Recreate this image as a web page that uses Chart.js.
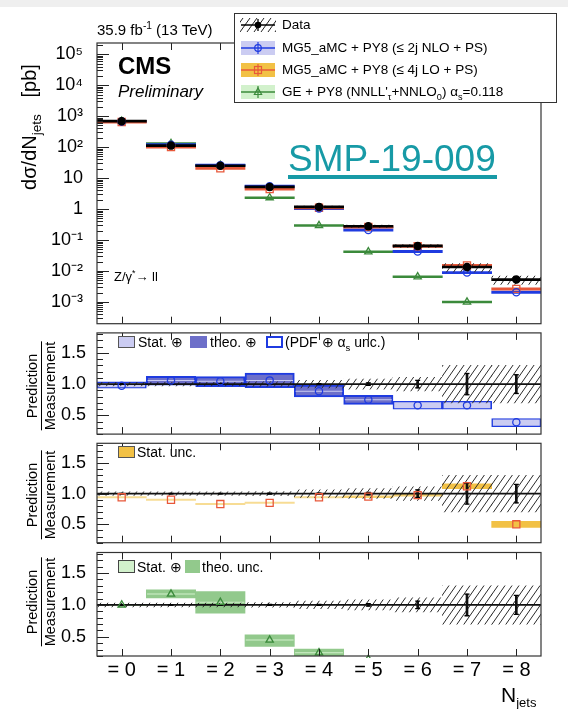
<!DOCTYPE html>
<html>
<head>
<meta charset="utf-8">
<script src="https://cdn.jsdelivr.net/npm/chart.js@4.4.1/dist/chart.umd.min.js"></script>
<style>
  body { margin: 0; background: #fff; }
  #page { position: relative; width: 568px; height: 709px; overflow: hidden; font-family: 'Liberation Sans', Arial, Helvetica, sans-serif; color: #000; }
  #topbar { position: absolute; left: 0; top: 0; width: 568px; height: 7px; background: #efefef; }
  canvas { position: absolute; left: 0; }
  .t { position: absolute; white-space: nowrap; line-height: 1; z-index: 3; }
  .sw { position: absolute; box-sizing: border-box; z-index: 3; }
  sub, sup { font-size: 68%; line-height: 0; }
</style>
</head>
<body>
<div id="page">
  <div id="topbar"></div>
  <canvas id="main" width="568" height="330" style="top:0"></canvas>
  <canvas id="ratioNlo" width="568" height="111" style="top:328px"></canvas>
  <canvas id="ratioLo" width="568" height="112" style="top:437px"></canvas>
  <canvas id="ratioGe" width="568" height="162" style="top:547px"></canvas>
</div>
<script>
'use strict';

// jet multiplicity bins
let categories = ['= 0', '= 1', '= 2', '= 3', '= 4', '= 5', '= 6', '= 7', '= 8'];

// measured cross section per bin [pb]
let measured = [690, 112, 25, 5.2, 1.18, 0.28, 0.065, 0.0135, 0.0053];
// relative uncertainties of the measurement: total (hatched) and stat (error bars)
let measTotUnc = [0.03, 0.03, 0.03, 0.035, 0.06, 0.08, 0.11, 0.30, 0.30];
let measStatUnc = [0.004, 0.004, 0.005, 0.006, 0.008, 0.02, 0.06, 0.17, 0.15];

// MG5_aMC + PY8 (<= 2j NLO + PS), prediction / measurement
let nloRatio = [0.975, 1.06, 1.045, 1.06, 0.885, 0.75, 0.66, 0.66, 0.39];
let nloLow = [0.935, 0.985, 0.96, 0.945, 0.795, 0.675, 0.60, 0.60, 0.32];
let nloHigh = [1.035, 1.125, 1.12, 1.175, 0.985, 0.82, 0.725, 0.725, 0.45];
let nloStatLow = [0.95, 1.052, 1.037, 1.052, 0.877, 0.742, 0.615, 0.615, 0.335];
let nloStatHigh = [1.02, 1.068, 1.053, 1.068, 0.893, 0.758, 0.71, 0.71, 0.435];

// MG5_aMC + PY8 (<= 4j LO + PS), prediction / measurement
let loRatio = [0.94, 0.90, 0.83, 0.85, 0.94, 0.95, 0.975, 1.12, 0.50];
let loStatLow = [0.928, 0.889, 0.819, 0.839, 0.928, 0.935, 0.96, 1.08, 0.45];
let loStatHigh = [0.952, 0.911, 0.841, 0.861, 0.952, 0.965, 0.99, 1.16, 0.55];

// GE + PY8 (NNLL'+NNLO0), prediction / measurement
let geRatio = [1.0, 1.17, 1.04, 0.45, 0.25, 0.15, 0.10, 0.074, null];
let geLow = [0.99, 1.11, 0.87, 0.35, 0.19, null, null, null, null];
let geHigh = [1.01, 1.235, 1.21, 0.53, 0.31, null, null, null, null];
let geStatLow = [0.995, 1.162, 1.032, 0.442, 0.242, null, null, null, null];
let geStatHigh = [1.005, 1.178, 1.048, 0.458, 0.258, null, null, null, null];

// axis ticks
let mainTickValues = [1e-3, 1e-2, 1e-1, 1, 10, 100, 1e3, 1e4, 1e5];
let mainTickLabels = ['10⁻³', '10⁻²', '10⁻¹', '1', '10', '10²', '10³', '10⁴', '10⁵'];
let ratioTickValues = [0.5, 1.0, 1.5];
let ratioTickLabels = ['0.5', '1.0', '1.5'];

// colours
let blue = '#1f3be0';
let nloDark = '#6d6fc9';
let nloLight = '#cbccf2';
let red = '#e8583a';
let loBand = ['#f7dc94', '#f7dc94', '#f7dc94', '#f7dc94', '#f7dc94', '#f5d070', '#f5d070', '#f2c145', '#f2c145'];
let green = '#3b8a3b';
let geDark = '#92c98c';
let geLight = '#d2f1cc';

Chart.defaults.font.family = "'Liberation Sans', Arial, Helvetica, sans-serif";
Chart.defaults.color = '#000';

let page = document.getElementById('page');

// diagonal hatching used for the measurement uncertainty
function makeHatch() {
  let c = document.createElement('canvas');
  c.width = 7;
  c.height = 10;
  let g = c.getContext('2d');
  g.strokeStyle = '#2a2a2a';
  g.lineWidth = 1;
  g.beginPath();
  g.moveTo(0, 10); g.lineTo(7, 0);
  g.moveTo(-1, 1.43); g.lineTo(1, -1.43);
  g.moveTo(6, 11.43); g.lineTo(8, 8.57);
  g.stroke();
  return g.createPattern(c, 'repeat');
}
let hatch = makeHatch();

function pairs(lo, hi) {
  return lo.map((v, i) => (v == null || hi[i] == null) ? null : [v, hi[i]]);
}

// thin band around a value on the log axis, drawn as a horizontal line
function lineBand(vals, f) {
  return vals.map(v => v == null ? null : [v / f, v * f]);
}

function times(a, b) {
  return a.map((v, i) => (v == null || b[i] == null) ? null : v * b[i]);
}

// tick labels may stick out of the frame, the frame itself stays put
function noOverflow(s) {
  s.paddingTop = 0;
  s.paddingBottom = 0;
  s.paddingLeft = 0;
  s.paddingRight = 0;
}

// frame, inward ticks and the line at unity
let framePlugin = {
  id: 'frame',
  afterDatasetDraw(chart, args) {
    let ds = chart.data.datasets[args.index];
    if (!ds.unityAfter) return;
    let { ctx, chartArea: a } = chart;
    let py = chart.scales.y.getPixelForValue(1);
    ctx.save();
    ctx.strokeStyle = '#111';
    ctx.lineWidth = 1.6;
    ctx.beginPath();
    ctx.moveTo(a.left, py);
    ctx.lineTo(a.right, py);
    ctx.stroke();
    ctx.restore();
  },
  afterDraw(chart, args, opts) {
    let { ctx, chartArea: a } = chart;
    let xs = chart.scales.x;
    let ys = chart.scales.y;
    ctx.save();
    ctx.strokeStyle = '#222';
    ctx.lineWidth = 1;
    ctx.beginPath();
    let yTick = (v, len) => {
      let py = Math.round(ys.getPixelForValue(v)) + 0.5;
      ctx.moveTo(a.left, py);
      ctx.lineTo(a.left + len, py);
    };
    (opts.major || []).forEach(v => yTick(v, 12));
    (opts.minor || []).forEach(v => yTick(v, 6));
    categories.forEach((c, i) => {
      let px = Math.round(xs.getPixelForValue(i)) + 0.5;
      ctx.moveTo(px, a.bottom);
      ctx.lineTo(px, a.bottom - 7);
      ctx.moveTo(px, a.top);
      ctx.lineTo(px, a.top + 7);
    });
    ctx.stroke();
    ctx.strokeStyle = '#333';
    ctx.lineWidth = 1.2;
    ctx.strokeRect(a.left, a.top, a.right - a.left, a.bottom - a.top);
    ctx.restore();
  }
};

let logMinor = [];
for (let k = -4; k <= 5; k++) {
  for (let m = 2; m <= 9; m++) {
    let v = m * Math.pow(10, k);
    if (v > 2e-4 && v < 2.3e5) logMinor.push(v);
  }
}
let ratioMinor = [];
for (let k = 2; k <= 18; k++) {
  if (k % 5 !== 0) ratioMinor.push(k / 10);
}

let floating = { grouped: false, barPercentage: 1, categoryPercentage: 1, borderSkipped: false };

function markers(data, style, color, radius, order, filled) {
  return {
    type: 'line', data: data, showLine: false, order: order,
    pointStyle: style, pointRadius: radius, pointHoverRadius: radius,
    pointBorderColor: color, pointBorderWidth: 1.3,
    pointBackgroundColor: filled ? color : 'rgba(0,0,0,0)', clip: 2
  };
}

// ---------- cross section panel ----------
let nloMain = times(measured, nloRatio);
let loMain = times(measured, loRatio);
let geMain = times(measured, geRatio);

new Chart(document.getElementById('main'), {
  type: 'bar',
  data: {
    labels: categories,
    datasets: [
      markers(measured, 'circle', '#000', 3.6, 0, true),
      markers(nloMain, 'circle', blue, 3.6, 1, false),
      markers(loMain, 'rect', red, 5, 1, false),
      markers(geMain, 'triangle', green, 4.2, 1, false),
      Object.assign({ data: lineBand(measured, 1.075), backgroundColor: '#000', order: 2 }, floating),
      Object.assign({ data: pairs(measured.map((v, i) => v * (1 - measTotUnc[i])), measured.map((v, i) => v * (1 + measTotUnc[i]))), backgroundColor: hatch, order: 3 }, floating),
      Object.assign({ data: lineBand(loMain, 1.09), backgroundColor: red, order: 4 }, floating),
      Object.assign({ data: lineBand(nloMain, 1.09), backgroundColor: blue, order: 5 }, floating),
      Object.assign({ data: lineBand(geMain, 1.07), backgroundColor: green, order: 6 }, floating)
    ]
  },
  options: {
    responsive: false,
    animation: false,
    layout: { padding: { top: 43, right: 27, bottom: 1, left: 0 } },
    plugins: { legend: { display: false }, tooltip: { enabled: false }, frame: { major: mainTickValues, minor: logMinor } },
    scales: {
      x: { display: false },
      y: {
        type: 'logarithmic', min: 2e-4, max: 2.3e5,
        grid: { display: false }, border: { display: false },
        afterBuildTicks: s => { s.ticks = mainTickValues.map(v => ({ value: v })); },
        ticks: { callback: (v, i) => mainTickLabels[i], font: { size: 18 }, color: '#000', padding: 6, autoSkip: false },
        afterFit: s => { s.width = 97; noOverflow(s); }
      }
    }
  },
  plugins: [framePlugin]
});

// ---------- ratio panels ----------
function measDatasets() {
  return [
    markers(measStatUnc.map(u => 1 + u), 'line', '#000', 2.5, 1, false),
    markers(measStatUnc.map(u => 1 - u), 'line', '#000', 2.5, 1, false),
    { type: 'bar', data: measStatUnc.map(u => [1 - u, 1 + u]), backgroundColor: '#111', barThickness: 2, grouped: false, order: 2 },
    Object.assign({ data: measTotUnc.map(u => [1 - u, 1 + u]), backgroundColor: hatch, order: 3, unityAfter: true }, floating)
  ];
}

function ratioChart(id, datasets, showX) {
  let x = { display: false };
  if (showX) {
    x = {
      display: true,
      grid: { display: false, drawTicks: false }, border: { display: false },
      ticks: { font: { size: 20 }, color: '#000', padding: 2, maxRotation: 0, autoSkip: false },
      afterFit: s => { s.height = 53; noOverflow(s); }
    };
  }
  return new Chart(document.getElementById(id), {
    type: 'bar',
    data: { labels: categories, datasets: datasets.concat(measDatasets()) },
    options: {
      responsive: false,
      animation: false,
      layout: { padding: { top: 1, right: 27, bottom: showX ? 0 : 1, left: 0 } },
      plugins: { legend: { display: false }, tooltip: { enabled: false }, frame: { major: ratioTickValues, minor: ratioMinor } },
      scales: {
        x: x,
        y: {
          min: 0.2, max: 1.82,
          grid: { display: false }, border: { display: false },
          afterBuildTicks: s => { s.ticks = ratioTickValues.map(v => ({ value: v })); },
          ticks: { callback: (v, i) => ratioTickLabels[i], font: { size: 18 }, color: '#000', padding: 3 },
          afterFit: s => { s.width = 97; noOverflow(s); }
        }
      }
    },
    plugins: [framePlugin]
  });
}

ratioChart('ratioNlo', [
  markers(nloRatio, 'circle', blue, 3.6, 0, false),
  Object.assign({}, floating, { data: pairs(nloStatLow, nloStatHigh), backgroundColor: nloLight, barPercentage: 0.95, order: 4 }),
  Object.assign({ data: pairs(nloLow, nloHigh), backgroundColor: nloDark, borderColor: blue, borderWidth: 2, order: 5 }, floating)
], false);

ratioChart('ratioLo', [
  markers(loRatio, 'rect', red, 5, 0, false),
  Object.assign({ data: pairs(loStatLow, loStatHigh), backgroundColor: loBand, order: 5 }, floating)
], false);

ratioChart('ratioGe', [
  markers(geRatio, 'triangle', green, 4.2, 0, false),
  Object.assign({}, floating, { data: pairs(geStatLow, geStatHigh), backgroundColor: geLight, barPercentage: 0.97, order: 4 }),
  Object.assign({ data: pairs(geLow, geHigh), backgroundColor: geDark, order: 5 }, floating)
], true);

// ---------- text and legends ----------
function addText(html, left, top, size, extra) {
  let d = document.createElement('div');
  d.className = 't';
  d.style.left = left + 'px';
  d.style.top = top + 'px';
  d.style.fontSize = size + 'px';
  if (extra) d.style.cssText += extra;
  d.innerHTML = html;
  page.appendChild(d);
  return d;
}

function addBox(left, top, w, h, css) {
  let d = document.createElement('div');
  d.className = 'sw';
  d.style.cssText += `left:${left}px;top:${top}px;width:${w}px;height:${h}px;` + css;
  page.appendChild(d);
  return d;
}

addText('35.9 fb<sup>-1</sup> (13 TeV)', 97, 22, 15);
addText('CMS', 118, 54, 24, 'font-weight:bold;');
addText('Preliminary', 118, 83, 17, 'font-style:italic;');
addText('Z/γ<sup>*</sup>→ ll', 114, 270, 13);
addText('SMP-19-009', 288, 140, 37, 'color:#179aa6;');
addBox(288, 175, 209, 4, 'background:#179aa6;');

// y axis titles
addText('dσ/dN<sub>jets</sub>&nbsp;&nbsp;&nbsp;[pb]', 29, 127, 20, 'transform:translate(-50%,-50%) rotate(-90deg);');
[386, 495, 602].forEach(cy => {
  addText('<div style="border-bottom:1px solid #000;padding:0 0 1px;text-align:center">Prediction</div><div style="padding-top:1px;text-align:center">Measurement</div>',
    41, cy, 14.5, 'transform:translate(-50%,-50%) rotate(-90deg);');
});
addText('N<sub style="font-size:62%">jets</sub>', 501, 684, 21);

// legend of the cross section panel
let legendRows = [
  { text: 'Data', kind: 'data' },
  { text: 'MG5_aMC + PY8 (≤ 2j NLO + PS)', kind: 'nlo' },
  { text: 'MG5_aMC + PY8 (≤ 4j LO + PS)', kind: 'lo' },
  { text: 'GE + PY8 (NNLL\'<sub>τ</sub>+NNLO<sub>0</sub>) α<sub>s</sub>=0.118', kind: 'ge' }
];
addBox(234, 13, 323, 90, 'border:1px solid #333;background:#fff;z-index:2;');

function swatchSvg(kind) {
  let s = '<svg width="36" height="18" xmlns="http://www.w3.org/2000/svg">';
  if (kind === 'data') {
    for (let i = -2; i < 6; i++) s += `<line x1="${i * 7}" y1="16" x2="${i * 7 + 10}" y2="2" stroke="#222" stroke-width="1"/>`;
    s += '<line x1="1" y1="9" x2="35" y2="9" stroke="#000" stroke-width="1.5"/>';
    s += '<line x1="18" y1="3" x2="18" y2="15" stroke="#000" stroke-width="1.3"/>';
    s += '<circle cx="18" cy="9" r="3.3" fill="#000"/>';
  } else {
    let fill = { nlo: nloLight, lo: '#f2c145', ge: geLight }[kind];
    let col = { nlo: blue, lo: red, ge: green }[kind];
    s += `<rect x="1" y="2" width="34" height="14" fill="${fill}"/>`;
    s += `<line x1="1" y1="9" x2="35" y2="9" stroke="${col}" stroke-width="1.6"/>`;
    s += `<line x1="18" y1="3" x2="18" y2="15" stroke="${col}" stroke-width="1.2"/>`;
    if (kind === 'nlo') s += `<circle cx="18" cy="9" r="3.3" fill="none" stroke="${col}" stroke-width="1.2"/>`;
    if (kind === 'lo') s += `<rect x="14.5" y="5.5" width="7" height="7" fill="none" stroke="${col}" stroke-width="1.2"/>`;
    if (kind === 'ge') s += `<polygon points="18,5 21.6,11.5 14.4,11.5" fill="none" stroke="${col}" stroke-width="1.2"/>`;
  }
  return s + '</svg>';
}

[25, 48, 70, 92].forEach((cy, i) => {
  let d = addBox(240, cy - 9, 36, 18, '');
  d.innerHTML = swatchSvg(legendRows[i].kind);
  addText(legendRows[i].text, 282, cy - 7, 13.5);
});

// legends of the ratio panels
addBox(118, 336, 17, 12, `background:${nloLight};border:1px solid #555;`);
addText('Stat. ⊕', 138, 335, 14);
addBox(190, 336, 17, 12, `background:${nloDark};`);
addText('theo. ⊕', 210, 335, 14);
addBox(266, 336, 17, 12, `background:#fff;border:2px solid ${blue};`);
addText('(PDF ⊕ α<sub>s</sub> unc.)', 285, 335, 14);

addBox(118, 446, 17, 12, 'background:#f2c145;border:1px solid #555;');
addText('Stat. unc.', 137, 445, 14);

addBox(118, 560, 17, 13, `background:${geLight};border:1px solid #444;`);
addText('Stat. ⊕', 137, 560, 14);
addBox(185, 560, 15, 13, `background:${geDark};`);
addText('theo. unc.', 202, 560, 14);
</script>
</body>
</html>
